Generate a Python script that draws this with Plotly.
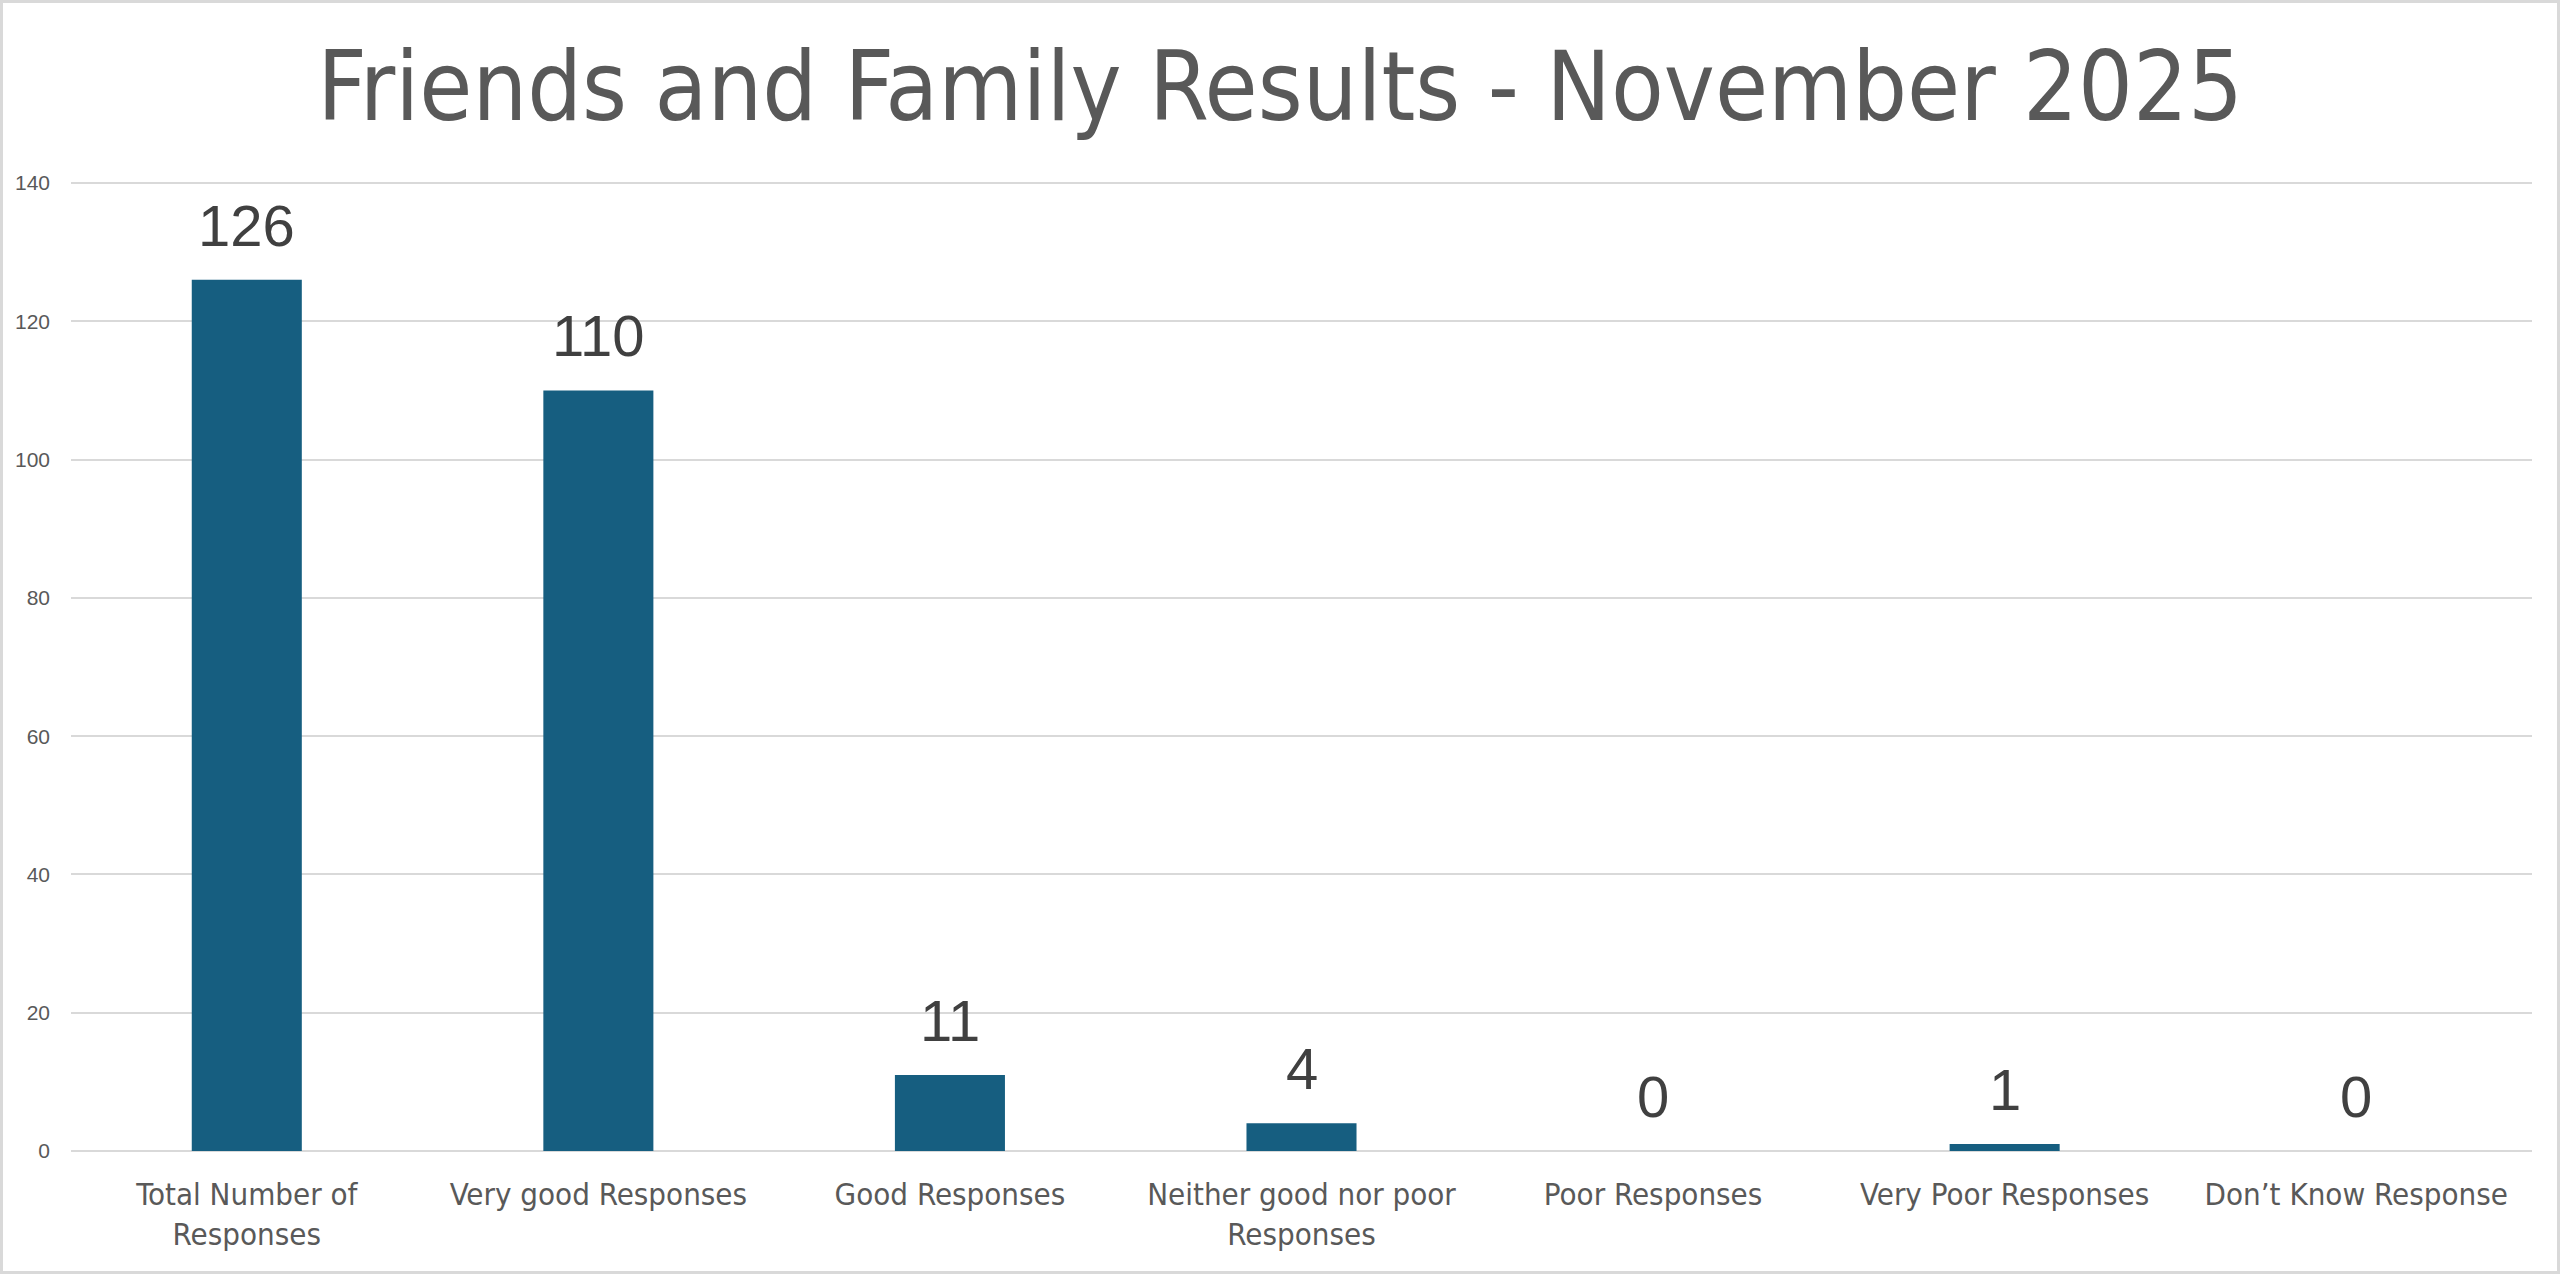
import plotly.graph_objects as go

categories = [
    "Total Number of<br>Responses",
    "Very good Responses",
    "Good Responses",
    "Neither good nor poor<br>Responses",
    "Poor Responses",
    "Very Poor Responses",
    "Don\u2019t Know Response",
]
values = [126, 110, 11, 4, 0, 1, 0]
y_ticks = [0, 20, 40, 60, 80, 100, 120, 140]

W, H = 2560, 1274
ML, MR, MT, MB = 71, 28, 182, 123
NARROW = "Liberation Sans Narrow, DejaVu Sans Condensed, Arial Narrow, Roboto, sans-serif"
REG = "Liberation Sans, Arial, Roboto, sans-serif"

fig = go.Figure()
fig.add_trace(go.Bar(
    x=categories, y=values,
    marker=dict(color="#165E80", line=dict(width=0)),
    hoverinfo="x+y",
))

for c, v in zip(categories, values):
    fig.add_annotation(x=c, y=v, text=str(v), showarrow=False,
                       yanchor="bottom", yshift=20,
                       font=dict(family=REG, size=58, color="#404040"))

fig.update_layout(
    width=W, height=H,
    margin=dict(l=ML, r=MR, t=MT, b=MB),
    paper_bgcolor="#FFFFFF", plot_bgcolor="#FFFFFF",
    bargap=0.687,
    showlegend=False,
    title=dict(text="Friends and Family Results - November 2025",
               x=0.5, xanchor="center", xref="container",
               y=1 - 86 / H, yanchor="middle", yref="container",
               font=dict(family=NARROW, size=96, color="#595959")),
    xaxis=dict(showgrid=False, showline=False, zeroline=False,
               ticks="", ticklabelstandoff=22,
               tickfont=dict(family=NARROW, size=31, color="#595959")),
    yaxis=dict(range=[0, 140.15], tickvals=y_ticks, showgrid=True,
               gridcolor="#D9D9D9", gridwidth=1.5, zeroline=True,
               zerolinecolor="#D9D9D9", zerolinewidth=1.5, showline=False,
               ticks="", ticklabelstandoff=20,
               tickfont=dict(family=REG, size=21, color="#595959")),
)

pw = W - ML - MR
ph = H - MT - MB
fig.add_shape(type="rect", xref="paper", yref="paper",
              x0=(1.5 - ML) / pw, x1=1 + (MR - 1.5) / pw,
              y0=-(MB - 1.5) / ph, y1=1 + (MT - 1.5) / ph,
              line=dict(color="#D9D9D9", width=3), fillcolor="rgba(0,0,0,0)",
              layer="above")

fig.write_html(
    "out.html",
    config={"displayModeBar": False},
    post_script="document.body.style.margin='0';document.body.style.overflow='hidden';",
)
